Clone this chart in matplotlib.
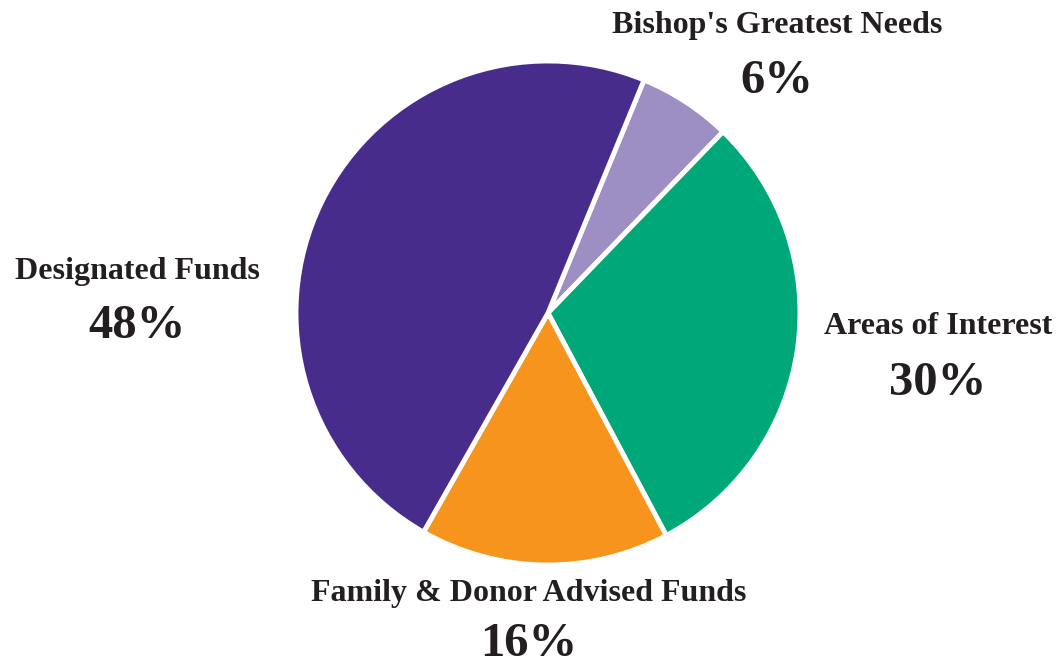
import matplotlib
matplotlib.use('Agg')
import matplotlib.pyplot as plt

labels = ["Bishop's Greatest Needs", "Areas of Interest", "Family & Donor Advised Funds", "Designated Funds"]
values = [6, 30, 16, 48]
colors = ['#9d8fc4', '#00a779', '#f7941e', '#472c8c']

W, H = 1060, 667
cx, cy, r = 548, 313, 252

fig = plt.figure(figsize=(W / 100, H / 100), dpi=100)
ax = fig.add_axes([0, 0, 1, 1])
ax.pie(values, colors=colors, startangle=67.6, counterclock=False,
       wedgeprops=dict(edgecolor='white', linewidth=3.5))
ax.set_xlim(-cx / r, (W - cx) / r)
ax.set_ylim(-(H - cy) / r, cy / r)
ax.axis('off')

font = 'Liberation Serif'
tc = '#231f20'
# label text positions in pixels (name y, percent y)
pos = [(777, 25, 81), (938, 326, 383), (529, 594, 644), (137, 271, 326)]
for lab, v, (x, y1, y2) in zip(labels, values, pos):
    fig.text(x / W, 1 - y1 / H, lab, ha='center', va='center', fontsize=23,
             fontweight='bold', family=font, color=tc)
    fig.text(x / W, 1 - y2 / H, f'{v}%', ha='center', va='center', fontsize=35,
             fontweight='bold', family=font, color=tc)

fig.savefig('out.png', dpi=100, facecolor='white')
